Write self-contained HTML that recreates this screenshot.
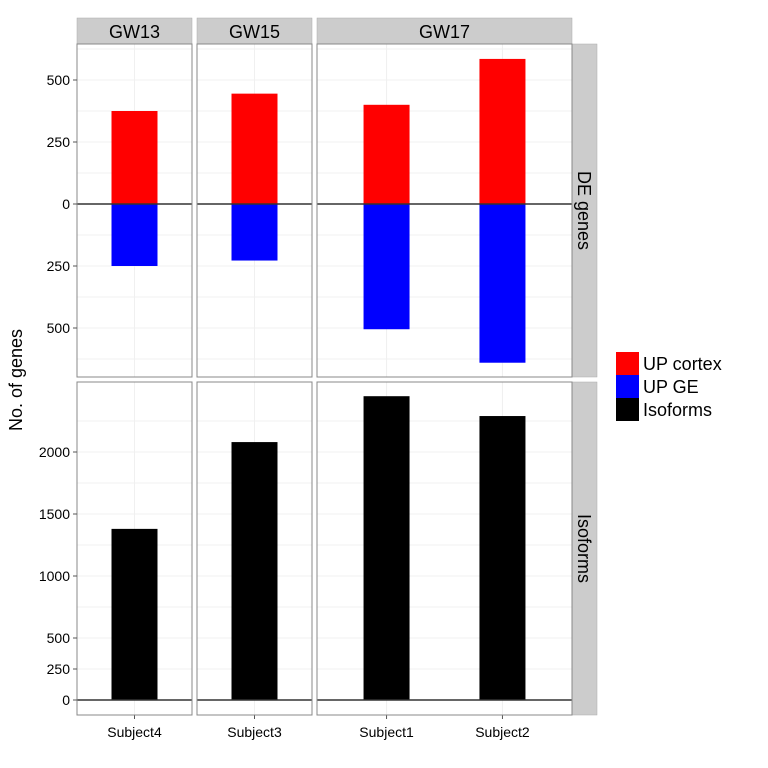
<!DOCTYPE html>
<html><head><meta charset="utf-8"><style>body{margin:0;background:#fff}svg{display:block;font-family:"Liberation Sans",sans-serif}</style></head>
<body>
<svg id="c" width="768" height="768"></svg>
<script>
const facets=["GW13","GW15","GW17"];
const subjects=["Subject4","Subject3","Subject1","Subject2"];
const subjectFacet=[0,1,2,2];
const upCortex=[375,445,400,585];
const upGE=[250,228,505,640];
const isoforms=[1380,2080,2450,2290];
const deTicks=[500,250,0,250,500];
const deTickVals=[500,250,0,-250,-500];
const isoTicks=[0,250,500,1000,1500,2000];
const legendLabels=["UP cortex","UP GE","Isoforms"];
const legendColors=["#ff0000","#0000ff","#000000"];

const NS="http://www.w3.org/2000/svg";
const svg=document.getElementById('c');
function mk(t,a,p){const e=document.createElementNS(NS,t);for(const k in a)e.setAttribute(k,a[k]);(p||svg).appendChild(e);return e;}
const panelX=[[77,192],[197,312],[317,572]];
const topY=[44,377],botY=[382,715];
const yDE=v=>204-v*0.248;
const yIso=v=>700-v*0.124;
// per-facet category positions
function xCenter(i){const f=subjectFacet[i];const members=subjects.map((s,j)=>j).filter(j=>subjectFacet[j]===f);const k=members.indexOf(i);const [a,b]=panelX[f];const u=(b-a)/(members.length-1+1.2);return a+0.6*u+k*u;}
const bw=46;
// strips
facets.forEach((f,i)=>{const [a,b]=panelX[i];
 const s=mk('rect',{x:a,y:18,width:b-a,height:26,fill:'#cccccc',stroke:'#aaa','stroke-width':0.5});
 
 const t=mk('text',{x:(a+b)/2,y:38,'text-anchor':'middle','font-size':18});t.textContent=f;
 
 [[topY,yDE,[-625,-500,-375,-250,-125,0,125,250,375,500,625]],[botY,yIso,[250,750,1250,1750,2250,500,1000,1500,2000]]].forEach(([yy,fy,gl])=>{
  const p=mk('rect',{x:a,y:yy[0],width:b-a,height:yy[1]-yy[0],fill:'#fff'});
  
  gl.forEach(v=>{const y=fy(v);if(y>yy[0]&&y<yy[1])mk('line',{x1:a,x2:b,y1:y,y2:y,stroke:'#f0f0f0','stroke-width':1});});
  subjects.forEach((s,j)=>{if(subjectFacet[j]===i){const x=xCenter(j);mk('line',{x1:x,x2:x,y1:yy[0],y2:yy[1],stroke:'#f0f0f0'});}});
 });
});
// right strips
[[topY,"DE genes"],[botY,"Isoforms"]].forEach(([yy,l])=>{
 const r=mk('rect',{x:572,y:yy[0],width:25,height:yy[1]-yy[0],fill:'#cccccc',stroke:'#aaa','stroke-width':0.5});
 
 const c=(yy[0]+yy[1])/2;const t=mk('text',{x:578,y:c,'font-size':18,'text-anchor':'middle',transform:`rotate(90 578 ${c})`});t.textContent=l;
 
});
// bars
subjects.forEach((s,i)=>{const x=xCenter(i)-bw/2;
 let r=mk('rect',{x,y:yDE(upCortex[i]),width:bw,height:yDE(0)-yDE(upCortex[i]),fill:'#ff0000'});
 
 r=mk('rect',{x,y:yDE(0),width:bw,height:yDE(-upGE[i])-yDE(0),fill:'#0000ff'});
 
 r=mk('rect',{x,y:yIso(isoforms[i]),width:bw,height:yIso(0)-yIso(isoforms[i]),fill:'#000'});
 
 const t=mk('text',{x:xCenter(i),y:737,'text-anchor':'middle','font-size':14});t.textContent=s;
 
 mk('line',{x1:xCenter(i),x2:xCenter(i),y1:715,y2:719,stroke:'#555'});
});
// zero lines and borders
facets.forEach((f,i)=>{const [a,b]=panelX[i];
 mk('line',{x1:a,x2:b,y1:yDE(0),y2:yDE(0),stroke:'#333','stroke-width':1.5});
 mk('line',{x1:a,x2:b,y1:yIso(0),y2:yIso(0),stroke:'#333','stroke-width':1.5});
 mk('rect',{x:a,y:topY[0],width:b-a,height:topY[1]-topY[0],fill:'none',stroke:'#888'});
 mk('rect',{x:a,y:botY[0],width:b-a,height:botY[1]-botY[0],fill:'none',stroke:'#888'});
});
// y ticks
deTicks.forEach((l,i)=>{const y=yDE(deTickVals[i]);mk('line',{x1:73,x2:77,y1:y,y2:y,stroke:'#555'});
 const t=mk('text',{x:70,y:y+5,'text-anchor':'end','font-size':14});t.textContent=l;
 });
isoTicks.forEach(v=>{const y=yIso(v);mk('line',{x1:73,x2:77,y1:y,y2:y,stroke:'#555'});
 const t=mk('text',{x:70,y:y+5,'text-anchor':'end','font-size':14});t.textContent=v;
 });
const yt=mk('text',{x:22,y:380,'text-anchor':'middle','font-size':18,transform:'rotate(-90 22 380)'});yt.textContent="No. of genes";

// legend
legendLabels.forEach((l,i)=>{const y=352+i*23;
 const r=mk('rect',{x:616,y,width:23,height:23,fill:legendColors[i]});
 
 const t=mk('text',{x:643,y:y+18,'font-size':18});t.textContent=l;
 });
</script>
</body></html>
